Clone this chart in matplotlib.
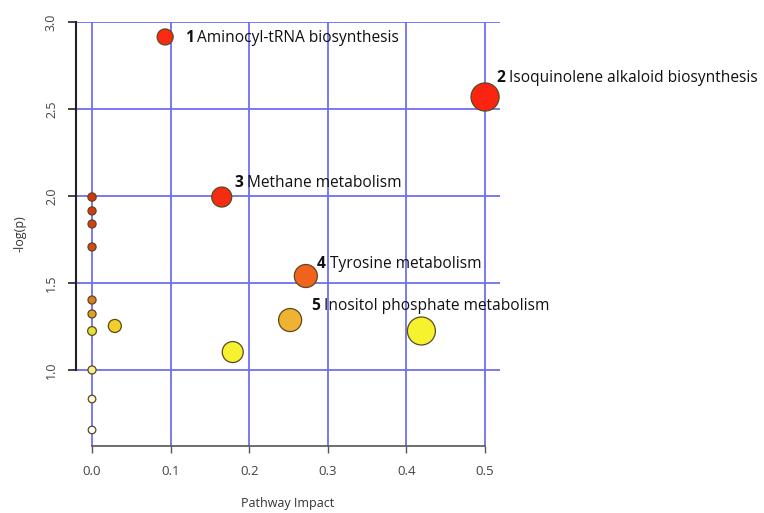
import matplotlib
matplotlib.use("Agg")
import matplotlib.pyplot as plt

# Pathway impact (x) vs -log(p) (y), bubble size and colour per pathway
impact = [0.093, 0.500, 0.165, 0.272, 0.252, 0.419, 0.179, 0.029,
          0.0, 0.0, 0.0, 0.0, 0.0, 0.0, 0.0, 0.0, 0.0, 0.0]
neg_log_p = [2.914, 2.569, 1.994, 1.540, 1.287, 1.224, 1.103, 1.253,
             1.994, 1.914, 1.839, 1.707, 1.402, 1.322, 1.224, 1.000, 0.833, 0.655]
sizes = [133, 410, 207, 275, 275, 406, 228, 88,
         36, 34, 34, 34, 34, 34, 40, 34, 30, 30]
colors = ["#fb2a10", "#fb2410", "#f52c12", "#f0621e", "#f0b232", "#f7f22e",
          "#f7f230", "#f2d02c",
          "#d8320f", "#d83a10", "#d83e12", "#d84a14", "#de7a22", "#e0a028",
          "#e4e236", "#f2f08a", "#faf8d0", "#ffffff"]

# Top five pathways with their labels
top_idx = [0, 1, 2, 3, 4]
top_num = ["1", "2", "3", "4", "5"]
top_name = ["Aminocyl-tRNA biosynthesis", "Isoquinolene alkaloid biosynthesis",
            "Methane metabolism", "Tyrosine metabolism",
            "Inositol phosphate metabolism"]
label_offsets = [(14, -1), (8, 14), (9, 10), (8, 9), (15, 10)]

x_ticks = [0.0, 0.1, 0.2, 0.3, 0.4, 0.5]
x_ticklabels = ["0.0", "0.1", "0.2", "0.3", "0.4", "0.5"]
y_ticks = [1.0, 1.5, 2.0, 2.5, 3.0]
y_ticklabels = ["1.0", "1.5", "2.0", "2.5", "3.0"]

label_font = "Open Sans"

fig = plt.figure(figsize=(7.64, 5.13), dpi=100)
ax = fig.add_axes([76 / 764, 67 / 513, 424 / 764, 424 / 513])

ax.set_xlim(-0.0204, 0.519)
ax.set_ylim(0.563, 3.0)

# blue grid at the tick positions
for xv in x_ticks:
    ax.axvline(xv, color="#6e6ef2", lw=1.3, zorder=1)
for yv in y_ticks:
    ax.axhline(yv, color="#6e6ef2", lw=1.3, zorder=1)

ax.scatter(impact, neg_log_p, s=sizes, c=colors, edgecolors="#5a4a20",
           linewidths=0.9, zorder=3)

for k, i in enumerate(top_idx):
    dx, dy = label_offsets[k]
    num = ax.annotate(top_num[k], xy=(impact[i], neg_log_p[i]),
                      xytext=(dx, dy), textcoords="offset points",
                      ha="left", va="center", fontsize=11.2, fontweight="bold",
                      family=label_font, color="#111111", zorder=4)
    ax.annotate(" " + top_name[k], xy=(1, 0.5), xycoords=num,
                ha="left", va="center", fontsize=11.2, family=label_font,
                color="#111111", zorder=4)

# R-style axes: shortened spines spanning only the tick range
for side in ("top", "right"):
    ax.spines[side].set_visible(False)
ax.spines["left"].set_bounds(1.0, 3.0)
ax.spines["left"].set_color("#222222")
ax.spines["left"].set_linewidth(1.5)
ax.spines["bottom"].set_bounds(0.0, 0.5)
ax.spines["bottom"].set_color("#555555")
ax.spines["bottom"].set_linewidth(1.2)
ax.spines["bottom"].set_zorder(2)

ax.set_xticks(x_ticks)
ax.set_xticklabels(x_ticklabels, family=label_font, fontsize=9.5, color="#444444")
ax.set_yticks(y_ticks)
ax.set_yticklabels(y_ticklabels, family=label_font, fontsize=9, color="#444444",
                   rotation=90, va="center")
ax.tick_params(axis="y", length=6, width=1.2, color="#222222", pad=7)
ax.tick_params(axis="x", length=5, width=1.0, color="#555555", pad=9)

ax.set_xlabel("Pathway Impact", family=label_font, fontsize=9, color="#333333",
              labelpad=13)
ax.set_ylabel("-log(p)", family=label_font, fontsize=9, color="#333333",
              labelpad=13)

fig.savefig("out.png", dpi=100)
